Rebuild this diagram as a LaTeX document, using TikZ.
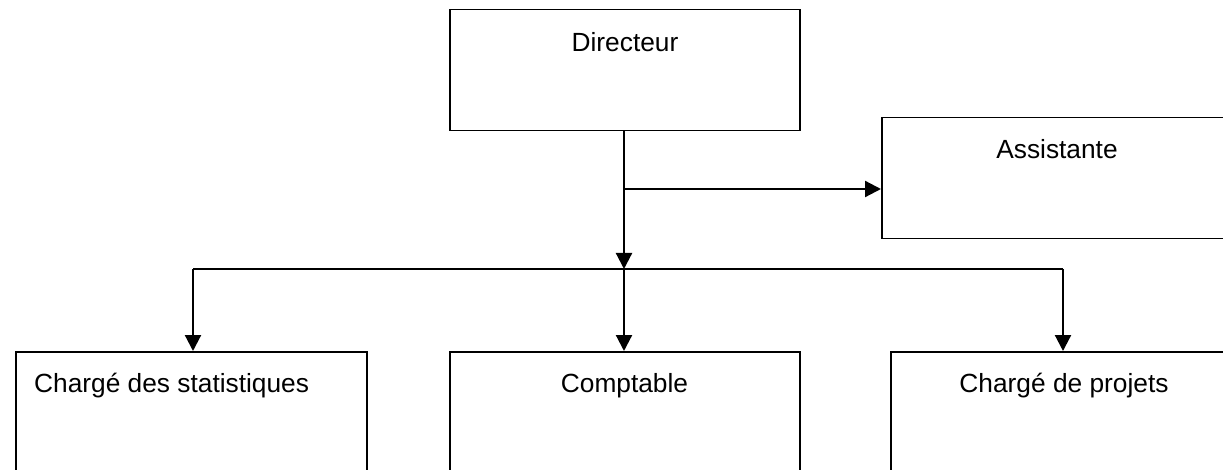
\documentclass[tikz,border=0pt]{standalone}
\usepackage{fontspec}
\setmainfont{Liberation Sans}
\usetikzlibrary{arrows.meta}
\begin{document}
\begin{tikzpicture}[x=1pt,y=1pt,
  box/.style={draw=black, line width=1.5pt, inner sep=0pt, anchor=north west},
  lbl/.style={inner sep=0pt, font=\fontsize{26.3}{31}\selectfont},
  conn/.style={line width=2.2pt, -{Triangle[length=16pt,width=16pt]}},
  thin/.style={line width=1.5pt}]
\useasboundingbox (0,0) rectangle (1223,-470);
\clip (0,0) rectangle (1223,-470);
% boxes
\node[box, minimum width=350pt, minimum height=121pt] (dir) at (449,-9) {};
\node[box, minimum width=360pt, minimum height=121pt] (ass) at (881,-117) {};
\node[box, minimum width=351pt, minimum height=160pt] (stat) at (15,-351) {};
\node[box, minimum width=350pt, minimum height=160pt] (comp) at (449,-351) {};
\node[box, minimum width=360pt, minimum height=160pt] (proj) at (890,-351) {};
% texts
\node[lbl, anchor=base] (tdir) at (625,-52) {Directeur};
\node[lbl, anchor=base] (tass) at (1057,-159) {Assistante};
\node[lbl, anchor=base west] (tstat) at (34,-392) {Chargé des statistiques};
\node[lbl, anchor=base] (tcomp) at (624.5,-392) {Comptable};
\node[lbl, anchor=base] (tproj) at (1064,-392) {Chargé de projets};
% junctions
\coordinate (ja) at (624,-189);
\coordinate (jm) at (624,-269);
\coordinate (jl) at (193,-269);
\coordinate (jr) at (1063,-269);
% connectors
\draw[line width=2.2pt] (dir.south -| ja) -- (ja);
\draw[conn] (ja) -- (ja -| ass.west);
\draw[conn] (ja) -- (jm);
\draw[thin] (jl) -- (jr);
\draw[conn] (jl) -- (jl |- stat.north);
\draw[conn] (jm) -- (jm |- comp.north);
\draw[conn] (jr) -- (jr |- proj.north);
\end{tikzpicture}
\end{document}
